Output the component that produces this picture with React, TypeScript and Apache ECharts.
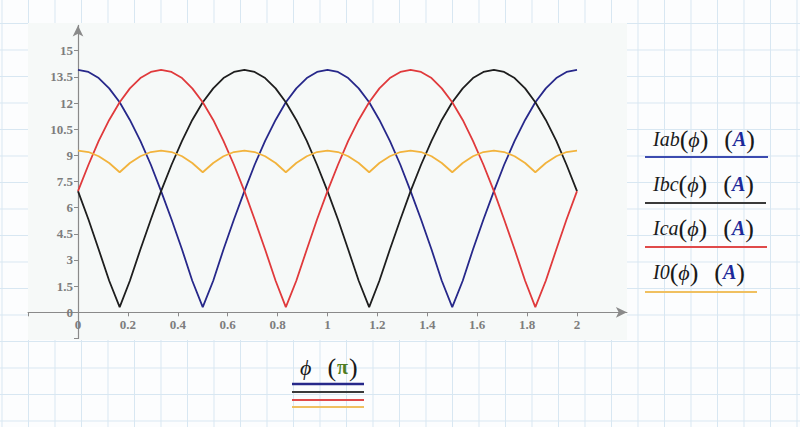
import React, { useEffect, useRef } from 'react';
import * as echarts from 'echarts';

// phase angle in units of pi
const phi = [
    0, 0.042, 0.083, 0.125, 0.167, 0.208, 0.25, 0.292, 0.333, 0.375, 0.417, 0.458, 0.5,
    0.542, 0.583, 0.625, 0.667, 0.708, 0.75, 0.792, 0.833, 0.875, 0.917, 0.958, 1,
    1.042, 1.083, 1.125, 1.167, 1.208, 1.25, 1.292, 1.333, 1.375, 1.417, 1.458, 1.5,
    1.542, 1.583, 1.625, 1.667, 1.708, 1.75, 1.792, 1.833, 1.875, 1.917, 1.958, 2,
];

const iab = [
    13.9, 13.78, 13.43, 12.84, 12.04, 11.03, 9.83, 8.46, 6.95, 5.32, 3.6, 1.81, 0.3,
    1.81, 3.6, 5.32, 6.95, 8.46, 9.83, 11.03, 12.04, 12.84, 13.43, 13.78, 13.9,
    13.78, 13.43, 12.84, 12.04, 11.03, 9.83, 8.46, 6.95, 5.32, 3.6, 1.81, 0.3,
    1.81, 3.6, 5.32, 6.95, 8.46, 9.83, 11.03, 12.04, 12.84, 13.43, 13.78, 13.9,
];

const ibc = [
    6.95, 5.32, 3.6, 1.81, 0.3, 1.81, 3.6, 5.32, 6.95, 8.46, 9.83, 11.03, 12.04,
    12.84, 13.43, 13.78, 13.9, 13.78, 13.43, 12.84, 12.04, 11.03, 9.83, 8.46, 6.95,
    5.32, 3.6, 1.81, 0.3, 1.81, 3.6, 5.32, 6.95, 8.46, 9.83, 11.03, 12.04,
    12.84, 13.43, 13.78, 13.9, 13.78, 13.43, 12.84, 12.04, 11.03, 9.83, 8.46, 6.95,
];

const ica = [
    6.95, 8.46, 9.83, 11.03, 12.04, 12.84, 13.43, 13.78, 13.9, 13.78, 13.43, 12.84, 12.04,
    11.03, 9.83, 8.46, 6.95, 5.32, 3.6, 1.81, 0.3, 1.81, 3.6, 5.32, 6.95,
    8.46, 9.83, 11.03, 12.04, 12.84, 13.43, 13.78, 13.9, 13.78, 13.43, 12.84, 12.04,
    11.03, 9.83, 8.46, 6.95, 5.32, 3.6, 1.81, 0.3, 1.81, 3.6, 5.32, 6.95,
];

const i0 = [
    9.27, 9.19, 8.95, 8.56, 8.03, 8.56, 8.95, 9.19, 9.27, 9.19, 8.95, 8.56, 8.03,
    8.56, 8.95, 9.19, 9.27, 9.19, 8.95, 8.56, 8.03, 8.56, 8.95, 9.19, 9.27,
    9.19, 8.95, 8.56, 8.03, 8.56, 8.95, 9.19, 9.27, 9.19, 8.95, 8.56, 8.03,
    8.56, 8.95, 9.19, 9.27, 9.19, 8.95, 8.56, 8.03, 8.56, 8.95, 9.19, 9.27,
];

const xTicks = [-0.2, 0, 0.2, 0.4, 0.6, 0.8, 1, 1.2, 1.4, 1.6, 1.8, 2];
const xLabels = [0, 0.2, 0.4, 0.6, 0.8, 1, 1.2, 1.4, 1.6, 1.8, 2];
const yTicks = [-1.5, 0, 1.5, 3, 4.5, 6, 7.5, 9, 10.5, 12, 13.5, 15];
const yLabels = [0, 1.5, 3, 4.5, 6, 7.5, 9, 10.5, 12, 13.5, 15];

const names = ['Iab', 'Ibc', 'Ica', 'I0'];
const colors = ['#27288a', '#1e1e1e', '#e03a3c', '#f2b33d'];
const legendColors = ['#3c4bb0', '#3a3a3a', '#e04a4a', '#f0c060'];

const SERIF = '"Liberation Serif", "DejaVu Serif", serif';

// axis extents (the axis lines run a little past the data, as in Mathcad)
const X_MIN = -0.2;
const X_MAX = 2.2;
const Y_MIN = -1.5;
const Y_MAX = 16.45;
const PX_PER_X = 249.5;
const PX_PER_Y = 17.44;
const GRID_LEFT = 28.1;
const GRID_W = (X_MAX - X_MIN) * PX_PER_X;
const GRID_H = (Y_MAX - Y_MIN) * PX_PER_Y;
const GRID_TOP = 312.3 - Y_MAX * PX_PER_Y;

const App: React.FC = () => {
    const chartRef = useRef<HTMLDivElement>(null);

    useEffect(() => {
        if (!chartRef.current) return;
        const chart = echarts.init(chartRef.current, undefined, { renderer: 'svg' });

        const pairs = (vals: number[]) => vals.map((v, i) => [phi[i], v]);
        const seriesData = [iab, ibc, ica, i0];

        // move axes (with labels) onto the zero lines
        const xOffset = -(0 - Y_MIN) * PX_PER_Y;
        const yOffset = -(0 - X_MIN) * PX_PER_X;

        const mathRich = {
            i: { fontFamily: SERIF, fontStyle: 'italic', fontSize: 20, fill: '#1a1a1a' },
            f: { fontFamily: SERIF, fontStyle: 'italic', fontSize: 22, fill: '#1a1a1a' },
            p: { fontFamily: SERIF, fontSize: 26, fill: '#1a1a1a' },
            a: { fontFamily: SERIF, fontStyle: 'italic', fontWeight: 'bold', fontSize: 20, fill: '#1c2a9a' },
            g: { fontFamily: SERIF, fontWeight: 'bold', fontSize: 20, fill: '#4f7d22' },
            s: { width: 16 },
            t: { width: 1 },
        };

        const legendItems: any[] = [];
        const legendY = [139, 184, 228, 272];
        const lineY = [157, 203, 247, 292];
        const lineEnd = [768, 766, 767, 757];
        names.forEach((n, i) => {
            legendItems.push({
                type: 'text',
                x: 653,
                y: legendY[i],
                style: {
                    text: `{i|${n}}{p|(}{f|ϕ}{p|)}{s|}{p|(}{a|A}{p|)}`,
                    verticalAlign: 'middle',
                    rich: mathRich,
                },
            });
            legendItems.push({
                type: 'line',
                shape: { x1: 645, y1: lineY[i], x2: lineEnd[i], y2: lineY[i] },
                style: { stroke: legendColors[i], lineWidth: 2 },
            });
        });

        const bottomLines = [384, 392, 400, 407].map((y, i) => ({
            type: 'line',
            shape: { x1: 292, y1: y, x2: 364, y2: y },
            style: { stroke: i === 0 ? '#27288a' : legendColors[i], lineWidth: i === 0 ? 2.5 : 2 },
        }));

        const option = {
            animation: false,
            grid: { left: GRID_LEFT, top: GRID_TOP, width: GRID_W, height: GRID_H, containLabel: false },
            xAxis: {
                type: 'value',
                min: X_MIN,
                max: X_MAX,
                offset: xOffset,
                axisLine: {
                    onZero: false,
                    symbol: ['none', 'arrow'],
                    symbolSize: [8, 11],
                    lineStyle: { color: '#8a8a8a', width: 1.2 },
                },
                axisTick: {
                    customValues: xTicks,
                    length: 4,
                    lineStyle: { color: '#8a8a8a' },
                },
                axisLabel: {
                    customValues: xLabels,
                    color: '#7d7d7d',
                    fontFamily: SERIF,
                    fontSize: 13,
                    fontWeight: 'bold',
                    margin: 6,
                    formatter: (v: number) => String(Math.round(v * 10) / 10),
                },
                splitLine: { show: false },
            },
            yAxis: {
                type: 'value',
                min: Y_MIN,
                max: Y_MAX,
                offset: yOffset,
                axisLine: {
                    onZero: false,
                    symbol: ['none', 'arrow'],
                    symbolSize: [8, 11],
                    lineStyle: { color: '#8a8a8a', width: 1.2 },
                },
                axisTick: {
                    customValues: yTicks,
                    length: 4,
                    lineStyle: { color: '#8a8a8a' },
                },
                axisLabel: {
                    customValues: yLabels,
                    color: '#7d7d7d',
                    fontFamily: SERIF,
                    fontSize: 13,
                    fontWeight: 'bold',
                    margin: 5,
                    formatter: (v: number) => String(Math.round(v * 10) / 10),
                },
                splitLine: { show: false },
            },
            graphic: [
                {
                    type: 'rect',
                    z: -1,
                    shape: { x: 28, y: 23, width: 599, height: 317 },
                    style: { fill: '#f6f9f8' },
                },
                ...legendItems,
                {
                    type: 'text',
                    x: 300,
                    y: 367,
                    style: {
                        text: '{f|ϕ}{s|}{p|(}{t|}{g|π}{t|}{p|)}',
                        verticalAlign: 'middle',
                        rich: mathRich,
                    },
                },
                ...bottomLines,
            ],
            series: seriesData.map((vals, i) => ({
                name: names[i],
                type: 'line',
                data: pairs(vals),
                showSymbol: false,
                lineStyle: { color: colors[i], width: 1.8 },
                itemStyle: { color: colors[i] },
            })),
        };

        chart.setOption(option);
        return () => {
            chart.dispose();
        };
    }, []);

    return (
        <div
            style={{
                position: 'fixed',
                left: 0,
                top: 0,
                width: 800,
                height: 427,
                backgroundColor: '#fcfdfe',
                backgroundImage:
                    'linear-gradient(to right, #d8e7f2 1px, transparent 1px), linear-gradient(to bottom, #d8e7f2 1px, transparent 1px)',
                backgroundSize: '26.5px 26.5px',
                backgroundPosition: '28px 23px',
            }}
        >
            <div ref={chartRef} style={{ width: 800, height: 427 }} />
        </div>
    );
};

export default App;
